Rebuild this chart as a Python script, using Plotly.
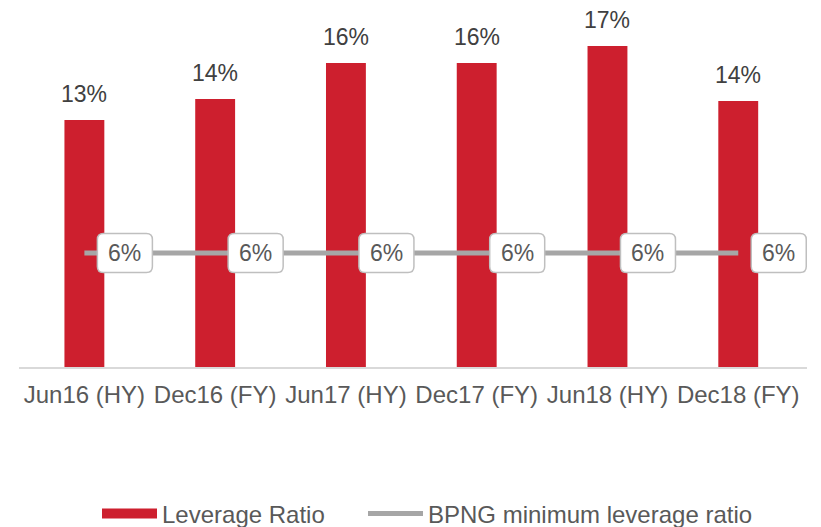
import plotly.graph_objects as go

categories = ["Jun16 (HY)", "Dec16 (FY)", "Jun17 (HY)", "Dec17 (FY)", "Jun18 (HY)", "Dec18 (FY)"]
leverage_ratio = [13.0, 14.1, 16.0, 16.0, 16.9, 14.0]
bpng_minimum = [6, 6, 6, 6, 6, 6]

RED = "#CD1F2E"
GREY = "#A6A6A6"
FONT = "Liberation Sans, Arial, sans-serif"

fig = go.Figure()
fig.add_trace(go.Bar(
    x=categories, y=leverage_ratio, name="Leverage Ratio",
    marker=dict(color=RED, line=dict(width=0)), showlegend=False,
))
# legend proxy for the bar series (wide red swatch)
fig.add_trace(go.Scatter(
    x=[None], y=[None], name="Leverage Ratio", mode="lines",
    line=dict(color=RED, width=14), legend="legend",
))
fig.add_trace(go.Scatter(
    x=categories, y=bpng_minimum, name="BPNG minimum leverage ratio",
    mode="lines", line=dict(color=GREY, width=5), legend="legend2",
))

annotations = []
shapes = []
for c, v in zip(categories, leverage_ratio):
    annotations.append(dict(
        x=c, y=v, text=f"{v:.0f}%", showarrow=False, yanchor="bottom",
        yshift=11, font=dict(size=23, color="#404040", family=FONT),
    ))
box = "M 19,-19.5 L 62,-19.5 Q 68,-19.5 68,-13.5 L 68,13.5 Q 68,19.5 62,19.5 L 19,19.5 Q 13,19.5 13,13.5 L 13,-13.5 Q 13,-19.5 19,-19.5 Z"
for c, v in zip(categories, bpng_minimum):
    shapes.append(dict(
        type="path", xref="x", yref="y", xsizemode="pixel", ysizemode="pixel",
        xanchor=c, yanchor=v, path=box, fillcolor="white",
        line=dict(color="#BFBFBF", width=1.5), layer="above",
    ))
    annotations.append(dict(
        x=c, y=v, text=f"{v:.0f}%", showarrow=False, xshift=40.5,
        font=dict(size=23, color="#595959", family=FONT),
    ))

legend_common = dict(
    orientation="h", xref="container", xanchor="left", yref="container",
    y=0.025, yanchor="middle", font=dict(size=24, color="#595959"),
    itemwidth=55, bgcolor="rgba(0,0,0,0)",
)

fig.update_layout(
    width=821, height=527,
    margin=dict(l=19, r=14, t=25, b=160),
    paper_bgcolor="white", plot_bgcolor="white",
    bargap=0.695,
    font=dict(family=FONT, color="#595959", size=24),
    showlegend=True,
    legend=dict(x=97 / 821, **legend_common),
    legend2=dict(x=363 / 821, **legend_common),
    annotations=annotations,
    shapes=shapes,
)
fig.update_xaxes(
    showline=True, linecolor="#D9D9D9", linewidth=1.5, showgrid=False,
    ticks="", ticklabelstandoff=5, tickfont=dict(size=24, color="#595959"),
)
fig.update_yaxes(visible=False, range=[0, 18])

fig.write_html("out.html", config={"displayModeBar": False},
               post_script="document.body.style.margin='0';")
